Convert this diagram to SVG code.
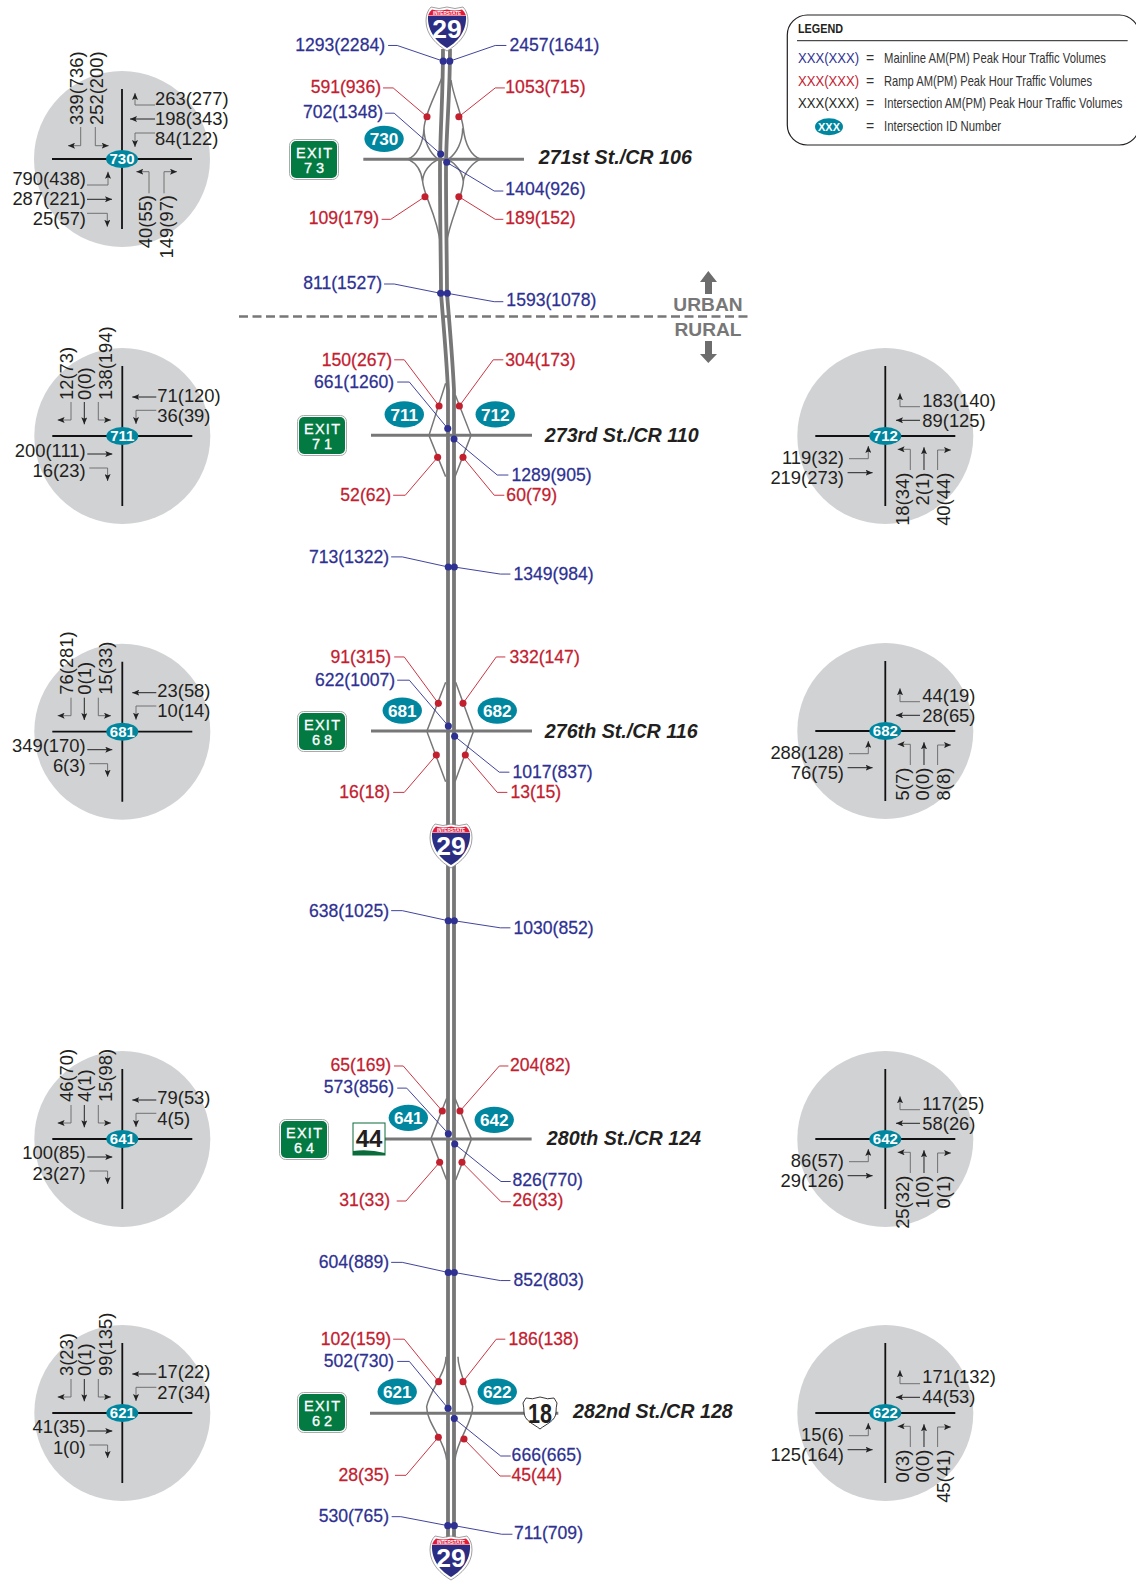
<svg xmlns="http://www.w3.org/2000/svg" width="1136" height="1585" viewBox="0 0 1136 1585">
<style>
text{font-family:"Liberation Sans",Arial,sans-serif;fill:#231f20}
.lb{font-size:17.4px;fill:#2e3192;stroke:#2e3192;stroke-width:.25}
.lr{font-size:17.4px;fill:#c3202f;stroke:#c3202f;stroke-width:.25}
.e{text-anchor:end}
.v{font-size:18.4px;fill:#231f20}
.st{font-size:19.5px;font-weight:bold;font-style:italic}
.id{font-weight:bold;fill:#fff;text-anchor:middle}
.tl{fill:#00879f}
.lnb{fill:none;stroke:#2e3192;stroke-width:.9}
.lnr{fill:none;stroke:#c3202f;stroke-width:.9}
.db{fill:#2e3192}
.dr{fill:#c3202f}
.main{fill:none;stroke:#777;stroke-width:3.8}
.r{fill:none;stroke:#777;stroke-width:4.5}
.c{fill:none;stroke:#777;stroke-width:9}
.t{fill:none;stroke:#666;stroke-width:.9;marker-end:url(#a)}
.h{fill:none;stroke:#111;stroke-width:.9;marker-end:url(#a)}
.xr{stroke:#111;stroke-width:1.8}
.ex{fill:#fff;stroke:#fff;stroke-width:.3;font-size:14.5px;text-anchor:middle}
.sh{fill:#fff;font-weight:bold;text-anchor:middle}
.lg{font-size:14px;fill:#333}
.ug{font-size:19.2px;font-weight:bold;fill:#777;text-anchor:middle}
</style>
<defs>
<marker id="a" markerUnits="userSpaceOnUse" markerWidth="7" markerHeight="6" refX="7" refY="3" orient="auto"><path d="M0 0L7 3L0 6L1.5 3Z" fill="#222"/></marker>
<g id="base"><circle r="88" fill="#d1d2d4"/><path class="xr" d="M-70 0H70M0-70V70"/></g>
<g id="mL"><path class="t" d="M-51.3-34V-16H-64.7"/><path class="h" d="M-38-34V-11.7"/><path class="t" d="M-24-34V-16H-11.3"/><path class="h" d="M34-39H10"/><path class="t" d="M34-25.7H13.7V-12"/><path class="h" d="M-35 18H-10"/><path class="t" d="M-33 32H-14.7V45"/></g>
<g id="mR"><path class="t" d="M34.7-29.3H14.7V-42.7"/><path class="h" d="M34.7-15.7H10.7"/><path class="t" d="M-36.3 22.7H-17V10"/><path class="h" d="M-37.7 36.7H-12.7"/><path class="t" d="M25 34V13.3H12.3"/><path class="h" d="M38.7 34V11.3"/><path class="t" d="M52.3 34V14H65.7"/></g>
<g id="shield"><path d="M-16 0Q-8 3 0 0Q8 3 16 0Q21 5 21 14C21 28 10 38 0 44C-10 38-21 28-21 14Q-21 5-16 0Z" fill="#fff" stroke="#888" stroke-width=".8"/><path d="M-19 9H19C20 25 9 36 0 41C-9 36-20 25-19 9Z" fill="#2b2d83"/><path d="M-15 2.500Q-8 4.500 0 2.500Q8 4.500 15 2.500Q18 5 19 8.500H-19Q-18 5-15 2.500Z" fill="#e31b3a"/><text class="sh" y="7.600" font-size="4.600">INTERSTATE</text><text class="sh" y="31" font-size="26.500">29</text></g>
<g id="exit"><rect x=".5" y=".5" width="49" height="40" rx="6" fill="#fff" stroke="#aaa"/><rect x="2" y="2" width="46" height="37" rx="5" fill="#047a43"/></g>
</defs>

<g id="connectors">
<path class="main" d="M443 49C443 100 440 130 440 170C440 220 441 270 441 293C443 320 446 350 448 390V1540"/>
<path class="main" d="M450 49C450 100 446 130 446 170C446 220 447 270 447 293C449 320 452 350 454 390V1540"/>
<g transform="translate(270 0) scale(.3333)">
<path class="r" d="M515 235C495 290 465 340 462 385C460 430 440 470 412 478M462 385C462 425 480 460 505 478"/>
<path class="r" d="M543 240C550 290 575 340 580 385C585 430 600 465 632 478M578 385C578 425 560 460 535 478"/>
<path class="r" d="M415 478C440 490 455 515 458 545C462 590 500 640 512 735M505 478C480 490 458 515 458 545"/>
<path class="r" d="M630 478C605 490 582 520 580 545C578 590 540 660 529 730M535 478C555 490 578 515 580 545"/>
<path class="c" d="M280 478H762"/>
</g>
<g transform="translate(400 340) scale(.3333)">
<path class="r" d="M137 130L88 283V289L137 410M166 165L212 283V289L165 410"/>
<path class="c" d="M-87 286H396"/>
</g>
<g transform="translate(400 650) scale(.3333)">
<path class="r" d="M137 97L82 240V248L137 395M167 97L219 240V248L165 395"/>
<path class="c" d="M-87 243H396"/>
</g>
<g transform="translate(270 1030) scale(.3333)">
<path class="r" d="M530 205L484 323V331L530 450M555 205L603 323V331L557 450"/>
<path class="c" d="M345 327H785"/>
</g>
<g transform="translate(280 1370) scale(.3333)">
<path class="r" d="M498-40C498 10 450 60 440 110C440 160 495 210 500 270M534-40C534 10 568 60 578 110C578 160 530 210 525 270"/>
<path class="c" d="M270 130H835"/>
</g>
<g transform="scale(1.0107)">
<polyline class="lnb" points="384,45 393,45 438.500,60.500"/>
<polyline class="lnb" points="501,45 490,45 445,60.500"/>
<polyline class="lnr" points="379,87 389,87 422.500,115.500"/>
<polyline class="lnr" points="499.500,87 490,87 454,115.500"/>
<polyline class="lnb" points="381,112 390,112 436,152.400"/>
<polyline class="lnb" points="498,189 489,189 442,160.600"/>
<polyline class="lnr" points="377.600,217 386.600,217 420.500,194.600"/>
<polyline class="lnr" points="498,217 490,217 454,194.600"/>
<polyline class="lnb" points="380,281 390,281 436,290.200"/>
<polyline class="lnb" points="498,298.500 489,298.500 442.600,290.200"/>
<polyline class="lnr" points="390,356 400,356 434.400,401.700"/>
<polyline class="lnr" points="498,356 488,356 454.500,401.700"/>
<polyline class="lnb" points="393,378 405,378 443,424"/>
<polyline class="lnb" points="503,470 492,470 449.200,434.400"/>
<polyline class="lnr" points="389,490 401,490 433,452.500"/>
<polyline class="lnr" points="499,490 489,490 458.100,452.500"/>
<polyline class="lnb" points="387,551 398,551 443.500,561"/>
<polyline class="lnb" points="505,568 495,568 449.500,561"/>
<polyline class="lnr" points="390,650 400,650 433.700,695.900"/>
<polyline class="lnr" points="500,650 491,650 458.100,695.900"/>
<polyline class="lnb" points="393,673 405,673 443.600,718.300"/>
<polyline class="lnb" points="504,764 494,764 449.800,728.500"/>
<polyline class="lnr" points="389,784 400,784 431.700,747"/>
<polyline class="lnr" points="502,784 492,784 460.400,747"/>
<polyline class="lnb" points="387,901 398,901 443.500,911"/>
<polyline class="lnb" points="505,918 495,918 449.500,911"/>
<polyline class="lnr" points="389.800,1054.700 399,1054.700 437.600,1099.300"/>
<polyline class="lnr" points="503,1054.700 494,1054.700 455.100,1099.300"/>
<polyline class="lnb" points="393,1076.600 402.400,1076.600 443.600,1121.700"/>
<polyline class="lnb" points="505.300,1169 495.700,1169 449.900,1131.900"/>
<polyline class="lnr" points="392.500,1188.300 401.700,1188.300 435,1150"/>
<polyline class="lnr" points="505.300,1189 495.700,1189 457.100,1150"/>
<polyline class="lnb" points="387,1249 398,1249 443.500,1259"/>
<polyline class="lnb" points="505,1267 495,1267 449.500,1259"/>
<polyline class="lnr" points="389,1325 400,1325 434,1367"/>
<polyline class="lnr" points="500,1325 491,1325 458.100,1367"/>
<polyline class="lnb" points="393,1347 405,1347 443.300,1393.400"/>
<polyline class="lnb" points="505.300,1440.600 495.400,1440.600 449.500,1403.600"/>
<polyline class="lnr" points="390.800,1459.700 401.700,1459.700 433.700,1422"/>
<polyline class="lnr" points="505.300,1460.400 494.700,1460.400 459.100,1423.800"/>
<polyline class="lnb" points="387.500,1500.600 396.500,1500.600 443,1509.500"/>
<polyline class="lnb" points="507,1518 496.400,1518 449.500,1509.500"/>
<g class="db">
<circle cx="438.500" cy="60.500" r="3.500"/><circle cx="445" cy="60.500" r="3.500"/><circle cx="436" cy="152.400" r="3.500"/><circle cx="442" cy="160.600" r="3.500"/><circle cx="436" cy="290.200" r="3.500"/><circle cx="442.600" cy="290.200" r="3.500"/>
<circle cx="443" cy="424" r="3.500"/><circle cx="449.200" cy="434.400" r="3.500"/><circle cx="443.500" cy="561" r="3.500"/><circle cx="449.500" cy="561" r="3.500"/>
<circle cx="443.600" cy="718.300" r="3.500"/><circle cx="449.800" cy="728.500" r="3.500"/><circle cx="443.500" cy="911" r="3.500"/><circle cx="449.500" cy="911" r="3.500"/>
<circle cx="443.600" cy="1121.700" r="3.500"/><circle cx="449.900" cy="1131.900" r="3.500"/><circle cx="443.500" cy="1259" r="3.500"/><circle cx="449.500" cy="1259" r="3.500"/>
<circle cx="443.300" cy="1393.400" r="3.500"/><circle cx="449.500" cy="1403.600" r="3.500"/><circle cx="443" cy="1509.500" r="3.500"/><circle cx="449.500" cy="1509.500" r="3.500"/>
</g>
<g class="dr">
<circle cx="422.500" cy="115.500" r="3.500"/><circle cx="454" cy="115.500" r="3.500"/><circle cx="420.500" cy="194.600" r="3.500"/><circle cx="454" cy="194.600" r="3.500"/>
<circle cx="434.400" cy="401.700" r="3.500"/><circle cx="454.500" cy="401.700" r="3.500"/><circle cx="433" cy="452.500" r="3.500"/><circle cx="458.100" cy="452.500" r="3.500"/>
<circle cx="433.700" cy="695.900" r="3.500"/><circle cx="458.100" cy="695.900" r="3.500"/><circle cx="431.700" cy="747" r="3.500"/><circle cx="460.400" cy="747" r="3.500"/>
<circle cx="437.600" cy="1099.300" r="3.500"/><circle cx="455.100" cy="1099.300" r="3.500"/><circle cx="435" cy="1150" r="3.500"/><circle cx="457.100" cy="1150" r="3.500"/>
<circle cx="434" cy="1367" r="3.500"/><circle cx="458.100" cy="1367" r="3.500"/><circle cx="433.700" cy="1422" r="3.500"/><circle cx="459.100" cy="1423.800" r="3.500"/>
</g>
</g>
</g>

<g id="volumes" transform="scale(1.0107)">
<text class="lb e" x="381" y="50.500">1293(2284)</text><text class="lb" x="504" y="50.500">2457(1641)</text>
<text class="lr e" x="377" y="92.500">591(936)</text><text class="lr" x="500" y="92.500">1053(715)</text>
<text class="lb e" x="379" y="117">702(1348)</text><text class="lb" x="500" y="193">1404(926)</text>
<text class="lr e" x="375" y="221.500">109(179)</text><text class="lr" x="500" y="221.500">189(152)</text>
<text class="lb e" x="378" y="286">811(1527)</text><text class="lb" x="501" y="303">1593(1078)</text>
<text class="lr e" x="388" y="362">150(267)</text><text class="lr" x="500" y="362">304(173)</text>
<text class="lb e" x="390" y="384">661(1260)</text><text class="lb" x="506" y="476">1289(905)</text>
<text class="lr e" x="387" y="496">52(62)</text><text class="lr" x="501" y="496">60(79)</text>
<text class="lb e" x="385" y="557">713(1322)</text><text class="lb" x="508" y="574">1349(984)</text>
<text class="lr e" x="387" y="656">91(315)</text><text class="lr" x="504" y="656">332(147)</text>
<text class="lb e" x="391" y="679">622(1007)</text><text class="lb" x="507" y="770">1017(837)</text>
<text class="lr e" x="386" y="790">16(18)</text><text class="lr" x="505" y="790">13(15)</text>
<text class="lb e" x="385" y="907">638(1025)</text><text class="lb" x="508" y="924">1030(852)</text>
<text class="lr e" x="387" y="1060">65(169)</text><text class="lr" x="504.600" y="1060">204(82)</text>
<text class="lb e" x="390" y="1081.500">573(856)</text><text class="lb" x="507" y="1173.500">826(770)</text>
<text class="lr e" x="385.900" y="1193">31(33)</text><text class="lr" x="507" y="1193">26(33)</text>
<text class="lb e" x="385" y="1255">604(889)</text><text class="lb" x="508" y="1272">852(803)</text>
<text class="lr e" x="387" y="1330.500">102(159)</text><text class="lr" x="503" y="1330.500">186(138)</text>
<text class="lb e" x="390" y="1353">502(730)</text><text class="lb" x="506.200" y="1445.500">666(665)</text>
<text class="lr e" x="385.200" y="1465">28(35)</text><text class="lr" x="506" y="1465">45(44)</text>
<text class="lb e" x="384.900" y="1506">530(765)</text><text class="lb" x="508.500" y="1523">711(709)</text>
</g>

<g id="streets" transform="scale(1.0107)">
<text class="st" x="533" y="162">271st St./CR 106</text>
<text class="st" x="539" y="437">273rd St./CR 110</text>
<text class="st" x="539" y="730">276th St./CR 116</text>
<text class="st" x="541" y="1133">280th St./CR 124</text>
<text class="st" x="567" y="1403">282nd St./CR 128</text>
</g>

<g id="signs">
<use href="#shield" transform="translate(447 7)"/>
<use href="#shield" transform="translate(451 824)"/>
<use href="#shield" transform="translate(451 1536)"/>
<g id="exit73" transform="translate(289 139)"><use href="#exit"/><text class="ex" x="25" y="18.500" textLength="36">EXIT</text><text class="ex" x="25" y="33.800" textLength="20">73</text></g>
<g id="exit71" transform="translate(297 415)"><use href="#exit"/><text class="ex" x="25" y="18.500" textLength="36">EXIT</text><text class="ex" x="25" y="33.800" textLength="20">71</text></g>
<g id="exit68" transform="translate(297 711)"><use href="#exit"/><text class="ex" x="25" y="18.500" textLength="36">EXIT</text><text class="ex" x="25" y="33.800" textLength="20">68</text></g>
<g id="exit64" transform="translate(279 1119)"><use href="#exit"/><text class="ex" x="25" y="18.500" textLength="36">EXIT</text><text class="ex" x="25" y="33.800" textLength="20">64</text></g>
<g id="exit62" transform="translate(297 1392)"><use href="#exit"/><text class="ex" x="25" y="18.500" textLength="36">EXIT</text><text class="ex" x="25" y="33.800" textLength="20">62</text></g>
<g id="sd44"><rect x="353" y="1123" width="32" height="32" fill="#fff" stroke="#0a6b3b" stroke-width="1"/><path d="M353 1151Q369 1149 385 1153V1155H353Z" fill="#0a6b3b"/><text x="369" y="1147" font-size="24" font-weight="bold" text-anchor="middle">44</text></g>
<g id="us18"><path d="M526 1398Q532 1400 540 1397Q548 1400 554 1398L557 1403Q556 1408 556 1412C556 1421 546 1424 540 1429C534 1424 524 1421 524 1412Q524 1408 523 1403Z" fill="#fff" stroke="#222" stroke-width=".9"/><text x="540" y="1423" font-size="27" font-weight="bold" text-anchor="middle" textLength="24" lengthAdjust="spacingAndGlyphs">18</text></g>
</g>

<g id="ids" transform="scale(1.0107)">
<g id="id730"><ellipse class="tl" cx="380" cy="137.400" rx="19.500" ry="13"/><text class="id" x="380" y="143.500" font-size="17">730</text></g>
<g id="id711"><ellipse class="tl" cx="400" cy="410" rx="19.500" ry="13"/><text class="id" x="400" y="416.100" font-size="17">711</text></g>
<g id="id712"><ellipse class="tl" cx="490" cy="410" rx="19.500" ry="13"/><text class="id" x="490" y="416.100" font-size="17">712</text></g>
<g id="id681"><ellipse class="tl" cx="398" cy="703" rx="19.500" ry="13"/><text class="id" x="398" y="709.100" font-size="17">681</text></g>
<g id="id682"><ellipse class="tl" cx="492" cy="703" rx="19.500" ry="13"/><text class="id" x="492" y="709.100" font-size="17">682</text></g>
<g id="id641"><ellipse class="tl" cx="404" cy="1106" rx="19.500" ry="13"/><text class="id" x="404" y="1112.100" font-size="17">641</text></g>
<g id="id642"><ellipse class="tl" cx="489" cy="1108" rx="19.500" ry="13"/><text class="id" x="489" y="1114.100" font-size="17">642</text></g>
<g id="id621"><ellipse class="tl" cx="393" cy="1377" rx="19.500" ry="13"/><text class="id" x="393" y="1383.100" font-size="17">621</text></g>
<g id="id622"><ellipse class="tl" cx="492" cy="1377" rx="19.500" ry="13"/><text class="id" x="492" y="1383.100" font-size="17">622</text></g>
</g>

<g id="urban-rural">
<path d="M239 316.500H750" fill="none" stroke="#777" stroke-width="2.500" stroke-dasharray="9 4.500"/>
<text class="ug" x="708" y="311">URBAN</text>
<text class="ug" x="708" y="336">RURAL</text>
<path d="M708.300 271L717 282H712V294H705V282H700Z" fill="#6d6d6d"/>
<path d="M708.300 363L717 354H712V341H705V354H700Z" fill="#6d6d6d"/>
</g>

<g id="legend">
<rect x="787.300" y="15" width="352" height="130" rx="20" fill="#fff" stroke="#231f20" stroke-width="1.200"/>
<text x="798" y="33" font-size="13" font-weight="bold" textLength="45" lengthAdjust="spacingAndGlyphs">LEGEND</text>
<path d="M797 40.700H1127.700" stroke="#231f20" stroke-width="1"/>
<text x="798" y="62.700" font-size="14" style="fill:#2e3192" textLength="61" lengthAdjust="spacingAndGlyphs">XXX(XXX)</text>
<text x="798" y="86" font-size="14" style="fill:#c3202f" textLength="61" lengthAdjust="spacingAndGlyphs">XXX(XXX)</text>
<text x="798" y="108.300" font-size="14" textLength="61" lengthAdjust="spacingAndGlyphs">XXX(XXX)</text>
<ellipse class="tl" cx="829" cy="126.700" rx="14" ry="8.500"/><text class="id" x="829" y="130.700" font-size="11">XXX</text>
<text class="lg" x="866" y="62.700">=</text><text class="lg" x="866" y="86">=</text><text class="lg" x="866" y="108.300">=</text><text class="lg" x="866" y="130.500">=</text>
<text class="lg" transform="translate(884 62.700) scale(.8 1)" textLength="277.500" lengthAdjust="spacingAndGlyphs">Mainline AM(PM) Peak Hour Traffic Volumes</text>
<text class="lg" transform="translate(884 86) scale(.8 1)" textLength="260" lengthAdjust="spacingAndGlyphs">Ramp AM(PM) Peak Hour Traffic Volumes</text>
<text class="lg" transform="translate(884 108.300) scale(.8 1)" textLength="297.900" lengthAdjust="spacingAndGlyphs">Intersection AM(PM) Peak Hour Traffic Volumes</text>
<text class="lg" transform="translate(884 130.500) scale(.8 1)" textLength="146.300" lengthAdjust="spacingAndGlyphs">Intersection ID Number</text>
</g>

<g id="n730" transform="translate(122 159)"><use href="#base"/>
<path class="t" d="M33-54H13V-66"/><path class="h" d="M33-40H8"/><path class="t" d="M33-26H13V-12"/><path class="t" d="M-35 26H-14V12.700"/><path class="h" d="M-35 40.300H-10"/><path class="t" d="M-35 54.300H-14.700V67.700"/><path class="t" d="M-41.300-32V-13.300H-54"/><path class="t" d="M-26.700-32V-13.300H-13.300"/><path class="t" d="M27 34.300V12.700H14.300"/><path class="t" d="M42 34.300V12.700H55"/>
<ellipse class="tl" rx="16" ry="9"/><text class="id" y="5.300" font-size="15">730</text>
<text class="v" x="33" y="-54">263(277)</text><text class="v" x="33" y="-34">198(343)</text><text class="v" x="33" y="-14">84(122)</text>
<text class="v e" x="-36" y="26">790(438)</text><text class="v e" x="-36" y="45.500">287(221)</text><text class="v e" x="-36" y="66">25(57)</text>
<text class="v" transform="translate(-39.300 -34) rotate(-90)">339(736)</text><text class="v" transform="translate(-19 -34) rotate(-90)">252(200)</text>
<text class="v e" transform="translate(30 36) rotate(-90)">40(55)</text><text class="v e" transform="translate(50.500 36) rotate(-90)">149(97)</text>
</g>

<g id="n711" transform="translate(122.300 436)"><use href="#base"/><use href="#mL"/>
<ellipse class="tl" rx="16" ry="9"/><text class="id" y="5.300" font-size="15">711</text>
<text class="v" x="35" y="-34.300">71(120)</text><text class="v" x="35" y="-14">36(39)</text>
<text class="v e" x="-36.700" y="20.500">200(111)</text><text class="v e" x="-36.700" y="41.400">16(23)</text>
<text class="v" transform="translate(-49.500 -36) rotate(-90)">12(73)</text><text class="v" transform="translate(-31.300 -36) rotate(-90)">0(0)</text><text class="v" transform="translate(-10 -36) rotate(-90)">138(194)</text>
</g>

<g id="n681" transform="translate(122.300 731.700)"><use href="#base"/><use href="#mL"/>
<ellipse class="tl" rx="16" ry="9"/><text class="id" y="5.300" font-size="15">681</text>
<text class="v" x="35" y="-35">23(58)</text><text class="v" x="35" y="-14.300">10(14)</text>
<text class="v e" x="-36.700" y="20">349(170)</text><text class="v e" x="-36.700" y="40.700">6(3)</text>
<text class="v" transform="translate(-49.500 -37) rotate(-90)">76(281)</text><text class="v" transform="translate(-31.300 -37) rotate(-90)">0(1)</text><text class="v" transform="translate(-10 -37) rotate(-90)">15(33)</text>
</g>

<g id="n641" transform="translate(122.300 1139)"><use href="#base"/><use href="#mL"/>
<ellipse class="tl" rx="16" ry="9"/><text class="id" y="5.300" font-size="15">641</text>
<text class="v" x="35" y="-35">79(53)</text><text class="v" x="35" y="-14.300">4(5)</text>
<text class="v e" x="-36.700" y="20">100(85)</text><text class="v e" x="-36.700" y="40.700">23(27)</text>
<text class="v" transform="translate(-49.500 -37) rotate(-90)">46(70)</text><text class="v" transform="translate(-31.300 -37) rotate(-90)">4(1)</text><text class="v" transform="translate(-10 -37) rotate(-90)">15(98)</text>
</g>

<g id="n621" transform="translate(122.300 1413)"><use href="#base"/><use href="#mL"/>
<ellipse class="tl" rx="16" ry="9"/><text class="id" y="5.300" font-size="15">621</text>
<text class="v" x="35" y="-35">17(22)</text><text class="v" x="35" y="-14.300">27(34)</text>
<text class="v e" x="-36.700" y="20">41(35)</text><text class="v e" x="-36.700" y="40.700">1(0)</text>
<text class="v" transform="translate(-49.500 -37) rotate(-90)">3(23)</text><text class="v" transform="translate(-31.300 -37) rotate(-90)">0(1)</text><text class="v" transform="translate(-10 -37) rotate(-90)">99(135)</text>
</g>

<g id="n712" transform="translate(885.300 436)"><use href="#base"/><use href="#mR"/>
<ellipse class="tl" rx="16" ry="9"/><text class="id" y="5.300" font-size="15">712</text>
<text class="v" x="37" y="-29.500">183(140)</text><text class="v" x="37" y="-9.300">89(125)</text>
<text class="v e" x="-41.300" y="28">119(32)</text><text class="v e" x="-41.300" y="48">219(273)</text>
<text class="v e" transform="translate(24 36.700) rotate(-90)">18(34)</text><text class="v e" transform="translate(43.700 36.700) rotate(-90)">2(1)</text><text class="v e" transform="translate(64.400 36.700) rotate(-90)">40(44)</text>
</g>

<g id="n682" transform="translate(885.300 731)"><use href="#base"/><use href="#mR"/>
<ellipse class="tl" rx="16" ry="9"/><text class="id" y="5.300" font-size="15">682</text>
<text class="v" x="37" y="-29.500">44(19)</text><text class="v" x="37" y="-9.300">28(65)</text>
<text class="v e" x="-41.300" y="28">288(128)</text><text class="v e" x="-41.300" y="48">76(75)</text>
<text class="v e" transform="translate(24 36.700) rotate(-90)">5(7)</text><text class="v e" transform="translate(43.700 36.700) rotate(-90)">0(0)</text><text class="v e" transform="translate(64.400 36.700) rotate(-90)">8(8)</text>
</g>

<g id="n642" transform="translate(885.300 1139)"><use href="#base"/><use href="#mR"/>
<ellipse class="tl" rx="16" ry="9"/><text class="id" y="5.300" font-size="15">642</text>
<text class="v" x="37" y="-29.500">117(25)</text><text class="v" x="37" y="-9.300">58(26)</text>
<text class="v e" x="-41.300" y="28">86(57)</text><text class="v e" x="-41.300" y="48">29(126)</text>
<text class="v e" transform="translate(24 36.700) rotate(-90)">25(32)</text><text class="v e" transform="translate(43.700 36.700) rotate(-90)">1(0)</text><text class="v e" transform="translate(64.400 36.700) rotate(-90)">0(1)</text>
</g>

<g id="n622" transform="translate(885.300 1413)"><use href="#base"/><use href="#mR"/>
<ellipse class="tl" rx="16" ry="9"/><text class="id" y="5.300" font-size="15">622</text>
<text class="v" x="37" y="-30">171(132)</text><text class="v" x="37" y="-10">44(53)</text>
<text class="v e" x="-41.300" y="27.500">15(6)</text><text class="v e" x="-41.300" y="47.500">125(164)</text>
<text class="v e" transform="translate(24 36.700) rotate(-90)">0(3)</text><text class="v e" transform="translate(43.700 36.700) rotate(-90)">0(0)</text><text class="v e" transform="translate(64.400 36.700) rotate(-90)">45(41)</text>
</g>
</svg>
